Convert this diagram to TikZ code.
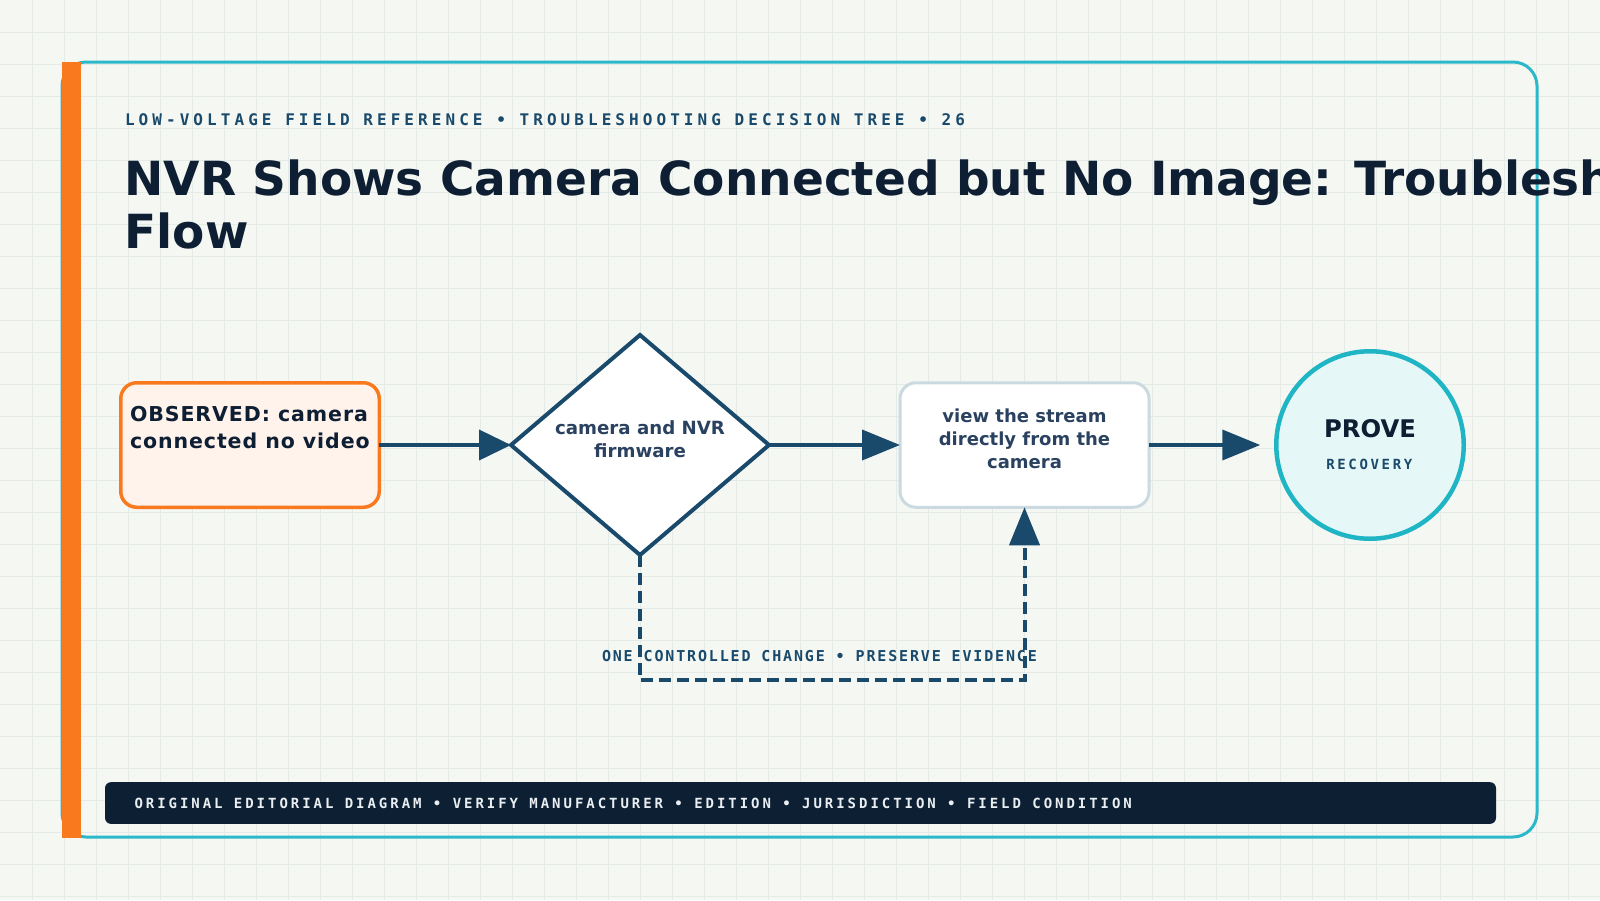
\documentclass[tikz,border=0pt]{standalone}
\usepackage{fontspec}
\setmainfont{DejaVu Sans}
\newfontfamily\obsfont[LetterSpace=4.5]{DejaVu Sans}
\newfontfamily\subfont[LetterSpace=25.4]{DejaVu Sans Mono}
\newfontfamily\barfont[LetterSpace=21.1]{DejaVu Sans Mono}
\newfontfamily\labfont[LetterSpace=12.3]{DejaVu Sans Mono}
\newfontfamily\recfont[LetterSpace=19]{DejaVu Sans Mono}
\usetikzlibrary{shapes.geometric,arrows.meta}
\definecolor{bgc}{HTML}{F5F7F3}
\definecolor{gridc}{HTML}{E4EAE6}
\definecolor{framec}{HTML}{2BB8C9}
\definecolor{circc}{HTML}{1FB5C4}
\definecolor{circfill}{HTML}{E6F7F8}
\definecolor{orangec}{HTML}{F97A1E}
\definecolor{obsfill}{HTML}{FFF3EC}
\definecolor{navy}{HTML}{1A4A6B}
\definecolor{ink}{HTML}{0E1E33}
\definecolor{slate}{HTML}{2A4260}
\definecolor{viewstroke}{HTML}{CADAE0}
\definecolor{barc}{HTML}{0D1F33}
\definecolor{bartextc}{HTML}{E9EEF2}
\tikzset{
  conn/.style={draw=navy, line width=4pt},
  arr/.style={-{Triangle[length=38pt,width=30pt]}},
  arrshort/.style={-{Triangle[length=32pt,width=30pt]}},
  txt/.style={inner sep=0pt, outer sep=0pt},
  obsbox/.style={draw=orangec, fill=obsfill, line width=3.5pt, rounded corners=16pt, inner sep=0pt, outer sep=0pt},
  viewbox/.style={draw=viewstroke, fill=white, line width=3pt, rounded corners=16pt, inner sep=0pt, outer sep=0pt},
  decision/.style={diamond, draw=navy, fill=white, line width=4pt, inner sep=0pt, outer sep=0pt},
  endcircle/.style={circle, draw=circc, fill=circfill, line width=4.5pt, inner sep=0pt, outer sep=0pt},
}
\begin{document}
\begin{tikzpicture}[x=1pt,y=-1pt]
\useasboundingbox (0,0) rectangle (1600,900);
\fill[bgc] (0,0) rectangle (1600,900);
\foreach \i in {32,64,...,1568} \draw[gridc, line width=1pt] (\i,0) -- (\i,900);
\foreach \j in {32,64,...,896} \draw[gridc, line width=1pt] (0,\j) -- (1600,\j);
% frame
\draw[framec, line width=3pt, rounded corners=24pt] (62,62) rectangle (1537,837);
\fill[orangec] (62,62) rectangle (81,838);
% header
\node[txt, anchor=base west, text=navy, font={\subfont\bfseries\fontsize{16}{19}\selectfont}] (kicker) at (125,125) {LOW-VOLTAGE FIELD REFERENCE • TROUBLESHOOTING DECISION TREE • 26};
\node[txt, anchor=north west, align=left, text=ink, font={\bfseries\fontsize{47}{53}\selectfont}] (title) at (124.5,159.3) {NVR Shows Camera Connected but No Image: Troubleshooting\\Flow};
% nodes
\node[obsbox, minimum width=258.5pt, minimum height=124.5pt] (obs) at (250,445) {};
\node[txt, anchor=west, align=left, text=ink, font={\obsfont\bfseries\fontsize{20.5}{26.6}\selectfont}] (obstext) at (130,427.6) {OBSERVED: camera\\connected no video};
\node[decision, minimum width=258pt, minimum height=220pt] (dia) at (640,445) {};
\node[txt, align=center, text=slate, font={\bfseries\fontsize{18.2}{22.6}\selectfont}] (diatext) at (640,439) {camera and NVR\\firmware};
\node[viewbox, minimum width=249pt, minimum height=124.5pt] (view) at (1024.5,445) {};
\node[txt, align=center, text=slate, font={\bfseries\fontsize{18}{22.8}\selectfont}] (viewtext) at (1024.5,438.5) {view the stream\\directly from the\\camera};
\node[endcircle, minimum size=187.5pt] (prove) at (1370,445) {};
\node[txt, anchor=base, text=ink, font={\bfseries\fontsize{24.3}{28}\selectfont}] (provetext) at (1370,437.2) {PROVE};
\node[txt, anchor=base west, text=navy, font={\recfont\bfseries\fontsize{14}{17}\selectfont}] (rectext) at (1326.3,469.8) {RECOVERY};
% connectors
\draw[conn, arrshort] (obs.east) -- (dia.west);
\draw[conn, arr] (dia.east) -- (view.west);
\draw[conn, arr, shorten >=16pt] (view.east) -- (prove.west);
\coordinate (loopturn) at (640,680);
\draw[conn, dash pattern=on 12pt off 6pt, arr] (dia.south) -- (loopturn) -| (view.south);
\node[txt, anchor=base west, text=navy, font={\labfont\bfseries\fontsize{15}{18}\selectfont}] (looplabel) at (602,661.7) {ONE CONTROLLED CHANGE • PRESERVE EVIDENCE};
% footer bar
\node[fill=barc, rounded corners=6pt, minimum width=1391pt, minimum height=41.7pt, inner sep=0pt] (bar) at (800.5,803) {};
\node[txt, anchor=base west, text=bartextc, font={\barfont\bfseries\fontsize{14}{17}\selectfont}] (bartext) at (134.5,808) {ORIGINAL EDITORIAL DIAGRAM • VERIFY MANUFACTURER • EDITION • JURISDICTION • FIELD CONDITION};
\end{tikzpicture}
\end{document}
